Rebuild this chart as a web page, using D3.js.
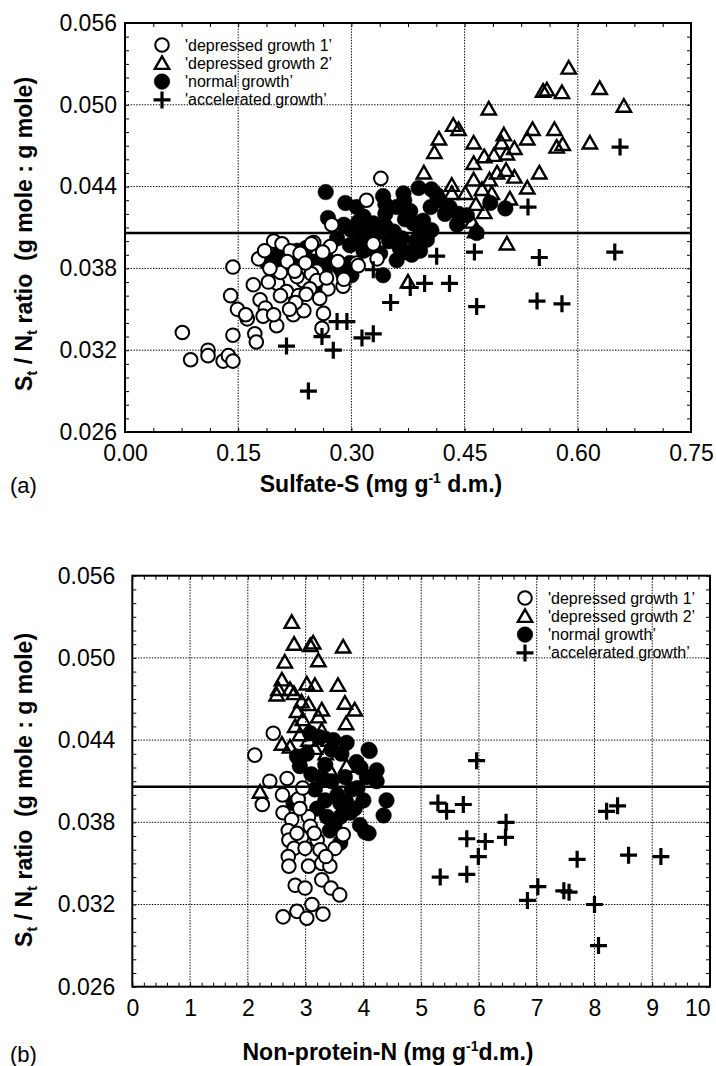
<!DOCTYPE html>
<html>
<head>
<meta charset="utf-8">
<script src="https://cdn.jsdelivr.net/npm/d3@7"></script>
<style>
  body { margin: 0; background: #fff; }
  text { font-family: "Liberation Sans", Arial, sans-serif; fill: #000; }
</style>
</head>
<body>
<svg id="chart" width="716" height="1066"></svg>
<script>
// legend labels
var seriesNames = ["'depressed growth 1\u2019", "'depressed growth 2\u2019", "'normal growth\u2019", "'accelerated growth\u2019"];

// shared y axis (St/Nt ratio)
var yTicks = [0.026, 0.032, 0.038, 0.044, 0.050, 0.056];
var refRatio = 0.0406;

// panel (a): x = sulfate-S
var xTicksA = [0.00, 0.15, 0.30, 0.45, 0.60, 0.75];
var aDepressed1 = [[0.076,0.0333],[0.087,0.0313],[0.110,0.0320],[0.110,0.0316],[0.130,0.0312],[0.137,0.0316],[0.143,0.0312],
  [0.143,0.0331],[0.143,0.0381],[0.140,0.0360],[0.149,0.0350],[0.162,0.0343],[0.160,0.0346],[0.172,0.0332],[0.174,0.0326],
  [0.170,0.0368],[0.177,0.0387],[0.179,0.0357],[0.186,0.0351],[0.183,0.0345],[0.201,0.0338],[0.197,0.0346],[0.197,0.0400],
  [0.208,0.0398],[0.219,0.0393],[0.202,0.0369],[0.206,0.0377],[0.214,0.0363],[0.206,0.0360],[0.223,0.0346],[0.230,0.0360],
  [0.237,0.0349],[0.236,0.0379],[0.236,0.0371],[0.228,0.0374],[0.250,0.0399],[0.254,0.0378],[0.263,0.0347],[0.261,0.0336],
  [0.269,0.0365],[0.274,0.0412],[0.289,0.0367],[0.307,0.0384],[0.339,0.0446],[0.320,0.0430],[0.329,0.0398],[0.334,0.0387],
  [0.309,0.0382],[0.247,0.0398],[0.247,0.0376],[0.254,0.0371],[0.267,0.0373],[0.232,0.0391],[0.239,0.0384],[0.192,0.0380],
  [0.272,0.0396],[0.215,0.0385],[0.225,0.0378],[0.245,0.0365],[0.258,0.0358],[0.226,0.0355],[0.218,0.0350],[0.190,0.0370],
  [0.185,0.0393],[0.262,0.0392],[0.282,0.0385],[0.290,0.0372],[0.240,0.0361]];
var aDepressed2 = [[0.588,0.0527],[0.554,0.0510],[0.559,0.0511],[0.579,0.0509],[0.629,0.0512],[0.661,0.0499],[0.482,0.0497],
  [0.435,0.0485],[0.442,0.0482],[0.416,0.0475],[0.410,0.0465],[0.462,0.0472],[0.502,0.0478],[0.540,0.0482],[0.569,0.0482],
  [0.533,0.0475],[0.516,0.0468],[0.580,0.0471],[0.572,0.0469],[0.616,0.0472],[0.476,0.0462],[0.489,0.0463],[0.499,0.0472],
  [0.506,0.0464],[0.462,0.0457],[0.493,0.0450],[0.505,0.0452],[0.516,0.0447],[0.549,0.0450],[0.396,0.0450],[0.462,0.0445],
  [0.483,0.0445],[0.433,0.0441],[0.433,0.0435],[0.451,0.0435],[0.473,0.0438],[0.486,0.0435],[0.510,0.0431],[0.533,0.0439],
  [0.465,0.0427],[0.476,0.0421],[0.460,0.0414],[0.464,0.0407],[0.506,0.0398],[0.375,0.0370]];
var aNormal = [[0.266,0.0436],[0.292,0.0428],[0.269,0.0417],[0.281,0.0402],[0.298,0.0397],[0.309,0.0414],[0.307,0.0425],
  [0.197,0.0387],[0.214,0.0393],[0.228,0.0393],[0.192,0.0386],[0.203,0.0389],[0.223,0.0386],[0.210,0.0381],[0.223,0.0381],
  [0.197,0.0380],[0.188,0.0384],[0.258,0.0386],[0.267,0.0387],[0.265,0.0379],[0.285,0.0380],[0.298,0.0384],[0.300,0.0375],
  [0.256,0.0362],[0.316,0.0418],[0.342,0.0433],[0.345,0.0427],[0.345,0.0420],[0.369,0.0435],[0.389,0.0439],[0.406,0.0438],
  [0.413,0.0434],[0.417,0.0430],[0.378,0.0422],[0.371,0.0416],[0.382,0.0413],[0.345,0.0411],[0.329,0.0413],[0.318,0.0407],
  [0.334,0.0406],[0.356,0.0407],[0.367,0.0402],[0.391,0.0406],[0.406,0.0408],[0.400,0.0401],[0.424,0.0420],[0.442,0.0420],
  [0.453,0.0419],[0.484,0.0428],[0.504,0.0424],[0.466,0.0406],[0.316,0.0393],[0.338,0.0391],[0.360,0.0386],[0.364,0.0395],
  [0.380,0.0390],[0.391,0.0393],[0.342,0.0375],[0.289,0.0376],[0.240,0.0395],[0.249,0.0385],[0.205,0.0392],[0.218,0.0388],
  [0.230,0.0383],[0.300,0.0408],[0.290,0.0412],[0.312,0.0400],[0.325,0.0395],[0.350,0.0400],[0.372,0.0392],[0.385,0.0400],
  [0.395,0.0415],[0.405,0.0425],[0.430,0.0425],[0.440,0.0412],[0.360,0.0425],[0.370,0.0430]];
var aAccelerated = [[0.656,0.0469],[0.534,0.0425],[0.649,0.0392],[0.549,0.0388],[0.463,0.0392],[0.413,0.0389],[0.329,0.0379],
  [0.397,0.0369],[0.430,0.0369],[0.378,0.0366],[0.352,0.0355],[0.466,0.0352],[0.546,0.0356],[0.579,0.0354],[0.294,0.0341],
  [0.329,0.0332],[0.314,0.0329],[0.214,0.0323],[0.243,0.0290],[0.261,0.0330],[0.276,0.0320],[0.281,0.0341]];

// panel (b): x = non-protein-N
var xTicksB = [0, 1, 2, 3, 4, 5, 6, 7, 8, 9, 10];
var bDepressed1 = [[2.44,0.0445],[2.12,0.0429],[2.38,0.0410],[2.68,0.0412],[2.25,0.0393],[2.87,0.0397],[2.61,0.0387],
  [2.76,0.0382],[3.05,0.0384],[3.08,0.0377],[2.70,0.0374],[2.71,0.0367],[2.93,0.0369],[3.20,0.0367],[2.80,0.0361],
  [2.99,0.0361],[2.70,0.0355],[2.71,0.0348],[3.05,0.0348],[3.28,0.0350],[3.42,0.0348],[2.82,0.0334],[2.99,0.0332],
  [3.28,0.0338],[3.44,0.0332],[3.59,0.0327],[2.61,0.0311],[2.85,0.0315],[3.02,0.0310],[3.11,0.0320],[3.30,0.0313],
  [3.51,0.0361],[3.65,0.0371],[2.95,0.0405],[2.60,0.0400],[2.90,0.0390],[3.15,0.0372],[2.85,0.0372],[3.25,0.0360],
  [3.35,0.0355]];
var bDepressed2 = [[2.76,0.0526],[2.80,0.0510],[3.08,0.0509],[3.13,0.0511],[3.65,0.0508],[2.64,0.0497],[3.22,0.0498],
  [2.59,0.0484],[2.53,0.0477],[2.50,0.0473],[2.73,0.0477],[2.80,0.0474],[3.02,0.0481],[3.16,0.0480],[3.56,0.0480],
  [2.93,0.0468],[3.05,0.0466],[3.68,0.0467],[3.85,0.0462],[3.28,0.0462],[2.85,0.0461],[3.22,0.0457],[3.70,0.0452],
  [2.82,0.0450],[3.28,0.0447],[2.90,0.0444],[2.59,0.0437],[2.73,0.0435],[3.16,0.0434],[3.28,0.0416],[3.42,0.0418],
  [3.71,0.0421],[2.21,0.0402],[2.95,0.0455],[3.05,0.0440],[3.35,0.0430],[3.40,0.0440]];
var bNormal = [[3.08,0.0445],[3.25,0.0442],[3.48,0.0440],[3.71,0.0438],[4.09,0.0433],[2.85,0.0428],[3.02,0.0430],
  [3.45,0.0433],[3.62,0.0430],[3.88,0.0424],[4.23,0.0418],[2.90,0.0421],[3.34,0.0422],[3.68,0.0413],[4.06,0.0413],
  [4.23,0.0410],[4.40,0.0396],[4.35,0.0385],[4.00,0.0396],[3.80,0.0404],[3.34,0.0396],[3.60,0.0394],[3.37,0.0384],
  [3.60,0.0384],[3.77,0.0387],[3.42,0.0374],[3.94,0.0378],[4.09,0.0372],[3.60,0.0365],[2.79,0.0394],[3.16,0.0404],
  [4.11,0.0432],[4.03,0.0373],[3.45,0.0410],[3.55,0.0400],[3.30,0.0412],[3.90,0.0405],[3.70,0.0395],[3.50,0.0378],
  [3.85,0.0390],[3.20,0.0390],[3.10,0.0415],[3.95,0.0420]];
var bAccelerated = [[5.96,0.0425],[5.29,0.0394],[5.44,0.0388],[5.73,0.0393],[6.47,0.0380],[6.46,0.0369],[5.79,0.0368],
  [6.11,0.0366],[5.99,0.0355],[5.33,0.0340],[5.79,0.0342],[7.02,0.0333],[6.84,0.0323],[7.47,0.0330],[7.56,0.0329],
  [7.70,0.0353],[8.00,0.0320],[8.07,0.0290],[8.21,0.0388],[8.40,0.0392],[8.59,0.0356],[9.15,0.0355]];

var svg = d3.select("#chart");

var trianglePath = "M0,-7L7.2,5.6L-7.2,5.6Z";
var plusPath = "M-8.5,0H8.5M0,-8.5V8.5";

function drawMarks(g, data, kind, x, y) {
  var sel = g.append("g").selectAll("path").data(data).enter();
  if (kind === "open" || kind === "filled") {
    sel.append("circle")
      .attr("cx", function(d) { return x(d[0]); })
      .attr("cy", function(d) { return y(d[1]); })
      .attr("r", kind === "open" ? 6.8 : 7.8)
      .attr("fill", kind === "open" ? "#fff" : "#000")
      .attr("stroke", "#000")
      .attr("stroke-width", kind === "open" ? 2 : 0.5);
  } else {
    sel.append("path")
      .attr("transform", function(d) { return "translate(" + x(d[0]) + "," + y(d[1]) + ")"; })
      .attr("d", kind === "tri" ? trianglePath : plusPath)
      .attr("fill", "none")
      .attr("stroke", "#000")
      .attr("stroke-width", kind === "tri" ? 2.4 : 3.2);
  }
}

function legendMark(g, kind, cx, cy) {
  drawMarks(g, [[cx, cy]], kind, function(v) { return v; }, function(v) { return v; });
}

function panel(opt) {
  var g = svg.append("g");
  var x = d3.scaleLinear().domain(opt.xDomain).range([opt.left, opt.right]);
  var y = d3.scaleLinear().domain([0.026, 0.056]).range([opt.bottom, opt.top]);

  // dotted grid
  g.append("g").selectAll("line").data(opt.xTicks.filter(function(t) { return t > opt.xDomain[0] && t < opt.xDomain[1]; }))
    .enter().append("line")
    .attr("x1", function(d) { return x(d); }).attr("x2", function(d) { return x(d); })
    .attr("y1", opt.top).attr("y2", opt.bottom)
    .attr("stroke", "#000").attr("stroke-width", 1).attr("stroke-dasharray", "1.4,1.4");
  g.append("g").selectAll("line").data(yTicks.slice(1, -1))
    .enter().append("line")
    .attr("y1", function(d) { return y(d); }).attr("y2", function(d) { return y(d); })
    .attr("x1", opt.left).attr("x2", opt.right)
    .attr("stroke", "#000").attr("stroke-width", 1).attr("stroke-dasharray", "1.4,1.4");

  // minor ticks inside, all four sides
  var xMinor = d3.range(opt.xDomain[0], opt.xDomain[1] + opt.xMinorStep / 2, opt.xMinorStep);
  var yMinor = d3.range(0.026, 0.0565, 0.001);
  function minor(axis, tx) {
    var a = g.append("g").attr("transform", tx).call(axis);
    a.select(".domain").remove();
    a.selectAll("line").attr("stroke", "#000").attr("stroke-width", 1);
  }
  minor(d3.axisBottom(x).tickValues(xMinor).tickSize(-4).tickFormat(""), "translate(0," + opt.bottom + ")");
  minor(d3.axisTop(x).tickValues(xMinor).tickSize(-4).tickFormat(""), "translate(0," + opt.top + ")");
  minor(d3.axisLeft(y).tickValues(yMinor).tickSize(-4).tickFormat(""), "translate(" + opt.left + ",0)");
  minor(d3.axisRight(y).tickValues(yMinor).tickSize(-4).tickFormat(""), "translate(" + opt.right + ",0)");

  // tick labels
  var xa = g.append("g").attr("transform", "translate(0," + opt.bottom + ")")
    .call(d3.axisBottom(x).tickValues(opt.xTicks).tickSize(0).tickPadding(13).tickFormat(opt.xFormat));
  xa.select(".domain").remove();
  xa.selectAll("text").attr("font-size", 23).attr("font-family", "Liberation Sans, Arial, sans-serif");
  if (opt.lastEnd) {
    xa.selectAll("text").filter(function(d) { return d === opt.xDomain[1]; }).attr("text-anchor", "end");
  }
  var ya = g.append("g").attr("transform", "translate(" + opt.left + ",0)")
    .call(d3.axisLeft(y).tickValues(yTicks).tickSize(0).tickPadding(opt.yPad).tickFormat(d3.format(".3f")));
  ya.select(".domain").remove();
  ya.selectAll("text").attr("font-size", 23).attr("font-family", "Liberation Sans, Arial, sans-serif");

  // marks
  drawMarks(g, opt.normal, "filled", x, y);
  drawMarks(g, opt.dep1, "open", x, y);
  drawMarks(g, opt.dep2, "tri", x, y);
  drawMarks(g, opt.acc, "plus", x, y);

  // reference ratio line
  g.append("line")
    .attr("x1", opt.left).attr("x2", opt.right)
    .attr("y1", y(refRatio)).attr("y2", y(refRatio))
    .attr("stroke", "#000").attr("stroke-width", 2.6);

  // frame
  g.append("rect")
    .attr("x", opt.left).attr("y", opt.top)
    .attr("width", opt.right - opt.left).attr("height", opt.bottom - opt.top)
    .attr("fill", "none").attr("stroke", "#000").attr("stroke-width", 2);

  // legend
  var kinds = ["open", "tri", "filled", "plus"];
  var lg = g.append("g");
  kinds.forEach(function(k, i) {
    var cy = opt.legY + i * 18.3;
    legendMark(lg, k, opt.legX, cy);
    lg.append("text").attr("x", opt.legX + 23).attr("y", cy + 5.5)
      .attr("font-size", 16).text(seriesNames[i]);
  });

  // y title
  var yt = g.append("text")
    .attr("transform", "translate(32," + opt.yTitleY + ") rotate(-90)")
    .attr("text-anchor", "middle").attr("font-size", 23).attr("font-weight", "bold");
  yt.append("tspan").text("S");
  yt.append("tspan").attr("font-size", 15).attr("dy", 5).text("t");
  yt.append("tspan").attr("dy", -5).text(" / N");
  yt.append("tspan").attr("font-size", 15).attr("dy", 5).text("t");
  yt.append("tspan").attr("dy", -5).text(" ratio\u00a0 (g mole : g mole)");

  // x title
  var xt = g.append("text").attr("x", opt.xTitleX).attr("y", opt.xTitleY)
    .attr("text-anchor", "middle").attr("font-size", 23).attr("font-weight", "bold");
  xt.append("tspan").text(opt.xTitle[0]);
  xt.append("tspan").attr("font-size", 14).attr("dy", -9).text("-1");
  xt.append("tspan").attr("dy", 9).text(opt.xTitle[1]);

  g.append("text").attr("x", 10).attr("y", opt.xTitleY + opt.tagDy)
    .attr("font-size", 22).text(opt.tag);
}

panel({
  left: 125, right: 691, top: 23, bottom: 432,
  xDomain: [0, 0.75], xTicks: xTicksA, xMinorStep: 0.0375, xFormat: d3.format(".2f"),
  yPad: 8, legX: 162, legY: 45, yTitleY: 234,
  xTitleX: 381, xTitleY: 492, xTitle: ["Sulfate-S (mg g", " d.m.)"], tag: "(a)", tagDy: 1,
  dep1: aDepressed1, dep2: aDepressed2, normal: aNormal, acc: aAccelerated
});

panel({
  left: 132.3, right: 710, top: 575.7, bottom: 986.7,
  xDomain: [0, 10], xTicks: xTicksB, xMinorStep: 0.2, xFormat: d3.format("d"), lastEnd: true,
  yPad: 17, legX: 525, legY: 598, yTitleY: 790,
  xTitleX: 388, xTitleY: 1060, xTitle: ["Non-protein-N (mg g", "d.m.)"], tag: "(b)", tagDy: 2,
  dep1: bDepressed1, dep2: bDepressed2, normal: bNormal, acc: bAccelerated
});
</script>
</body>
</html>
